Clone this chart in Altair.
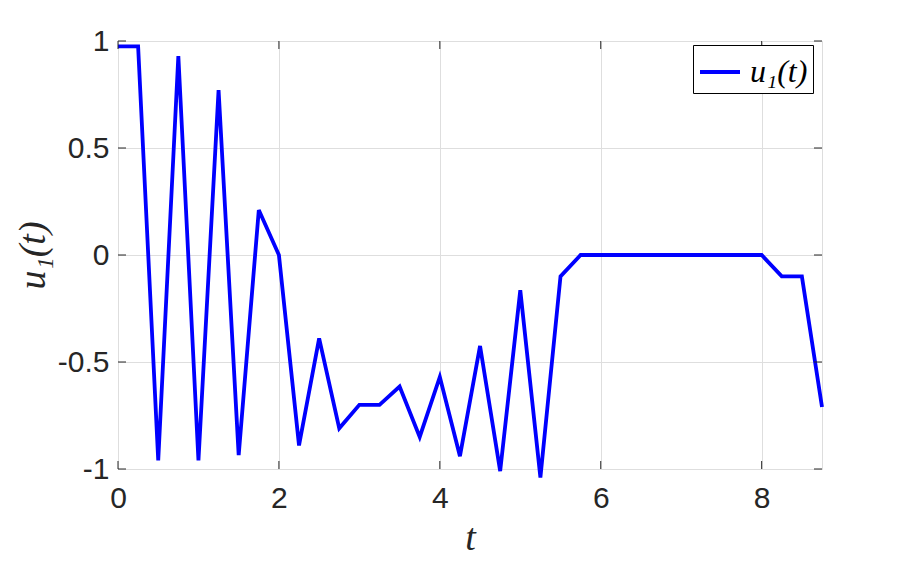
import altair as alt
import pandas as pd

# data
t_values = [0, 0.25, 0.5, 0.75, 1.0, 1.25, 1.5, 1.75, 2.0, 2.25, 2.5, 2.75, 3.0, 3.25, 3.5,
            3.75, 4.0, 4.25, 4.5, 4.75, 5.0, 5.25, 5.5, 5.75, 6.0, 6.25, 6.5, 6.75, 7.0,
            7.25, 7.5, 7.75, 8.0, 8.25, 8.5, 8.75]
u1_values = [0.975, 0.975, -0.96, 0.93, -0.96, 0.77, -0.935, 0.21, 0.0, -0.89, -0.39, -0.81,
             -0.70, -0.70, -0.615, -0.85, -0.57, -0.94, -0.425, -1.01, -0.165, -1.04, -0.1,
             0.0, 0.0, 0.0, 0.0, 0.0, 0.0, 0.0, 0.0, 0.0, 0.0, -0.1, -0.1, -0.71]
series_name = "u₁(t)"
x_ticks = [0, 2, 4, 6, 8]
y_ticks = [-1, -0.5, 0, 0.5, 1]

W, H = 704, 428
df = pd.DataFrame({"t": t_values, "u": u1_values, "s": [series_name] * len(t_values)})
xt = pd.DataFrame({"v": x_ticks})
yt = pd.DataFrame({"v": y_ticks})

xscale = alt.Scale(domain=[0, 8.75], nice=False, zero=False)
yscale = alt.Scale(domain=[-1, 1], nice=False, zero=False)

label_font = "Liberation Sans"
title_font = "Liberation Serif"

line = alt.Chart(df).mark_line(strokeWidth=3.8, clip=False, strokeJoin="miter").encode(
    x=alt.X("t:Q", scale=xscale,
            axis=alt.Axis(values=x_ticks, title="t", grid=True, gridColor="#dedede",
                          tickSize=0, labelFont=label_font, labelFontSize=30,
                          labelColor="#262626", labelPadding=14, domain=False,
                          labelFlush=False, labelExpr="'' + datum.value",
                          titleFont=title_font, titleFontStyle="italic",
                          titleFontWeight="normal", titleFontSize=38,
                          titleColor="#262626", titlePadding=6)),
    y=alt.Y("u:Q", scale=yscale,
            axis=alt.Axis(values=y_ticks, title="u₁(t)", grid=True, gridColor="#dedede",
                          tickSize=0, labelFont=label_font, labelFontSize=30,
                          labelColor="#262626", labelPadding=9, domain=False,
                          labelFlush=False, labelExpr="'' + datum.value",
                          titleFont=title_font, titleFontStyle="italic",
                          titleFontWeight="normal", titleFontSize=38,
                          titleColor="#262626", titlePadding=5)),
    color=alt.Color("s:N", scale=alt.Scale(range=["#0000ff"]),
                    legend=alt.Legend(title=None, orient="none", legendX=575, legendY=4,
                                      symbolType="stroke", symbolStrokeWidth=3.8,
                                      symbolSize=1600, labelFont=title_font,
                                      labelFontStyle="italic", labelFontSize=32,
                                      labelColor="#000000", labelOffset=8,
                                      strokeColor="#000000", fillColor="#ffffff",
                                      padding=5, labelLimit=300)),
)

tick_len = 8
bx = alt.Chart(xt).mark_rule(color="#262626", strokeWidth=1).encode(
    x=alt.X("v:Q", scale=xscale), y=alt.value(H), y2=alt.value(H - tick_len))
tx = alt.Chart(xt).mark_rule(color="#262626", strokeWidth=1).encode(
    x=alt.X("v:Q", scale=xscale), y=alt.value(0), y2=alt.value(tick_len))
ly = alt.Chart(yt).mark_rule(color="#262626", strokeWidth=1).encode(
    y=alt.Y("v:Q", scale=yscale), x=alt.value(0), x2=alt.value(tick_len))
ry = alt.Chart(yt).mark_rule(color="#262626", strokeWidth=1).encode(
    y=alt.Y("v:Q", scale=yscale), x=alt.value(W), x2=alt.value(W - tick_len))

chart = alt.layer(line, bx, tx, ly, ry).properties(
    width=W, height=H,
    autosize=alt.AutoSizeParams(type="none"),
    padding={"left": 110, "top": 33, "right": 78, "bottom": 92},
).configure_view(stroke="#262626", strokeWidth=1).configure(background="white")

chart.save("out.html", embed_options={"renderer": "svg", "actions": False})
